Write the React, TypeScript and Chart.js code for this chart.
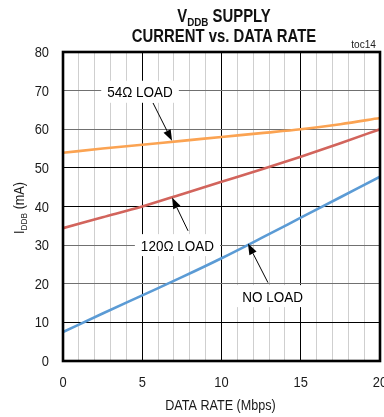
import React, { useEffect, useRef } from "react";
import { Chart, registerables } from "chart.js";

Chart.register(...registerables);

const xRates = [0, 2.5, 5, 7.5, 10, 12.5, 15, 17.5, 20];
const load54 = [53.9, 55.0, 56.0, 57.0, 58.0, 59.0, 60.0, 61.3, 62.9];
const load120 = [34.4, 37.2, 40.0, 43.2, 46.4, 49.6, 52.9, 56.4, 60.0];
const noLoad = [7.5, 12.3, 17.0, 21.7, 26.6, 31.8, 37.1, 42.4, 47.7];

const xTicks = [0, 5, 10, 15, 20];
const yTicks = [0, 10, 20, 30, 40, 50, 60, 70, 80];

const titleLine1 = [{ t: "V" }, { t: "DDB", sub: true }, { t: " SUPPLY" }];
const titleLine2 = "CURRENT vs. DATA RATE";
const xTitle = "DATA RATE (Mbps)";
const yTitle = [{ t: "I" }, { t: "DDB", sub: true }, { t: " (mA)" }];
const tocLabel = "toc14";

// annotation label + arrow positions in data units
const annotations = [
  { text: "54Ω LOAD", x: 4.86, y: 69.7, tail: [5.68, 66.8], tip: [6.88, 57.0] },
  { text: "120Ω LOAD", x: 7.22, y: 30.0, tail: [7.89, 33.7], tip: [6.88, 42.3] },
  { text: "NO LOAD", x: 13.22, y: 16.8, tail: [12.93, 20.3], tip: [11.67, 30.4] },
];

const FONT = "'Liberation Sans', Arial, sans-serif";

type Part = { t: string; sub?: boolean };

function drawRich(
  ctx: CanvasRenderingContext2D,
  parts: Part[],
  x: number,
  y: number,
  align: "left" | "center" | "right",
  size: number,
  bold: boolean,
  sx: number
) {
  const w = bold ? "bold " : "";
  const subSize = size * 0.66;
  let total = 0;
  const widths = parts.map((p) => {
    ctx.font = `${w}${p.sub ? subSize : size}px ${FONT}`;
    const m = ctx.measureText(p.t).width;
    total += m;
    return m;
  });
  ctx.save();
  ctx.translate(x, y);
  ctx.scale(sx, 1);
  let cx = align === "left" ? 0 : align === "center" ? -total / 2 : -total;
  ctx.textAlign = "left";
  ctx.textBaseline = "alphabetic";
  parts.forEach((p, i) => {
    ctx.font = `${w}${p.sub ? subSize : size}px ${FONT}`;
    ctx.fillText(p.t, cx, p.sub ? size * 0.22 : 0);
    cx += widths[i];
  });
  ctx.restore();
  return total * sx;
}

const overlay = {
  id: "overlay",
  afterDatasetsDraw(chart: any) {
    const ctx: CanvasRenderingContext2D = chart.ctx;
    const xs = chart.scales.x;
    const ys = chart.scales.y;
    ctx.save();
    ctx.fillStyle = "#000";
    annotations.forEach((a) => {
      const px = xs.getPixelForValue(a.x);
      const py = ys.getPixelForValue(a.y);
      ctx.font = `15px ${FONT}`;
      const tw = ctx.measureText(a.text).width * 0.9;
      ctx.fillStyle = "#fff";
      ctx.fillRect(px - tw / 2 - 6, py - 11, tw + 12, 22);
      ctx.fillStyle = "#000";
      drawRich(ctx, [{ t: a.text }], px, py + 5.5, "center", 15, false, 0.9);
      // arrow
      const x1 = xs.getPixelForValue(a.tail[0]);
      const y1 = ys.getPixelForValue(a.tail[1]);
      const x2 = xs.getPixelForValue(a.tip[0]);
      const y2 = ys.getPixelForValue(a.tip[1]);
      const ang = Math.atan2(y2 - y1, x2 - x1);
      const hl = 11;
      const hw = 4;
      const bx = x2 - hl * Math.cos(ang);
      const by = y2 - hl * Math.sin(ang);
      ctx.strokeStyle = "#000";
      ctx.lineWidth = 1;
      ctx.beginPath();
      ctx.moveTo(x1, y1);
      ctx.lineTo(bx, by);
      ctx.stroke();
      ctx.beginPath();
      ctx.moveTo(x2, y2);
      ctx.lineTo(bx + hw * Math.sin(ang), by - hw * Math.cos(ang));
      ctx.lineTo(bx - hw * Math.sin(ang), by + hw * Math.cos(ang));
      ctx.closePath();
      ctx.fill();
    });
    ctx.restore();
  },
  afterDraw(chart: any) {
    const ctx: CanvasRenderingContext2D = chart.ctx;
    const area = chart.chartArea;
    const xs = chart.scales.x;
    const ys = chart.scales.y;
    ctx.save();
    // frame
    ctx.strokeStyle = "#000";
    ctx.lineWidth = 2.6;
    ctx.strokeRect(area.left, area.top, area.right - area.left, area.bottom - area.top);
    ctx.fillStyle = "#1a1a1a";
    // y ticks
    yTicks.forEach((v) => {
      drawRich(ctx, [{ t: String(v) }], area.left - 14, ys.getPixelForValue(v) + 5, "right", 14, false, 0.92);
    });
    // x ticks
    xTicks.forEach((v) => {
      drawRich(ctx, [{ t: String(v) }], xs.getPixelForValue(v), 387, "center", 14, false, 0.92);
    });
    // axis titles
    drawRich(ctx, [{ t: xTitle }], (area.left + area.right) / 2 - 1, 410, "center", 14, false, 0.9);
    ctx.save();
    ctx.translate(24, 208);
    ctx.rotate(-Math.PI / 2);
    drawRich(ctx, yTitle, 0, 0, "center", 14, false, 0.9);
    ctx.restore();
    // title
    ctx.fillStyle = "#111";
    drawRich(ctx, titleLine1, 224, 22, "center", 17.5, true, 0.85);
    drawRich(ctx, [{ t: titleLine2 }], 224, 42, "center", 17.5, true, 0.85);
    ctx.fillStyle = "#222";
    drawRich(ctx, [{ t: tocLabel }], 376, 48, "right", 11, false, 0.92);
    ctx.restore();
  },
};

export default function App() {
  const ref = useRef<HTMLCanvasElement | null>(null);
  useEffect(() => {
    if (!ref.current) return;
    const mk = (vals: number[]) => xRates.map((x, i) => ({ x, y: vals[i] }));
    const ds = (label: string, vals: number[], color: string) => ({
      label,
      data: mk(vals),
      borderColor: color,
      backgroundColor: color,
      borderWidth: 2.6,
      pointRadius: 0,
      cubicInterpolationMode: "monotone" as const,
      fill: false,
    });
    const chart = new Chart(ref.current, {
      type: "line",
      data: {
        datasets: [
          ds("54Ω LOAD", load54, "#FBA352"),
          ds("120Ω LOAD", load120, "#D2645C"),
          ds("NO LOAD", noLoad, "#5B9BD5"),
        ],
      },
      options: {
        animation: false,
        responsive: false,
        devicePixelRatio: 1,
        layout: { padding: { top: 52, right: 4, left: 0, bottom: 0 } },
        plugins: { legend: { display: false }, tooltip: { enabled: false }, title: { display: false } },
        scales: {
          x: {
            type: "linear",
            min: 0,
            max: 20,
            ticks: { stepSize: 1, display: false },
            border: { display: false },
            grid: {
              drawTicks: false,
              lineWidth: 1,
              color: (c: any) => (c.tick && c.tick.value % 5 === 0 ? "#000" : "#cfcfcf"),
            },
            afterFit: (s: any) => {
              s.height = 56;
            },
          },
          y: {
            type: "linear",
            min: 0,
            max: 80,
            ticks: { stepSize: 10, display: false },
            border: { display: false },
            grid: {
              drawTicks: false,
              lineWidth: 1,
              color: (c: any) => {
                const v = c.tick ? c.tick.value : 0;
                return v === 10 || v === 40 || v === 50 ? "#000" : "#707070";
              },
            },
            afterFit: (s: any) => {
              s.width = 63;
            },
          },
        },
      },
      plugins: [overlay],
    });
    return () => chart.destroy();
  }, []);
  return (
    <div style={{ position: "fixed", left: 0, top: 0, width: 384, height: 417, background: "#fff" }}>
      <canvas ref={ref} width={384} height={417} style={{ display: "block", width: 384, height: 417 }} />
    </div>
  );
}
